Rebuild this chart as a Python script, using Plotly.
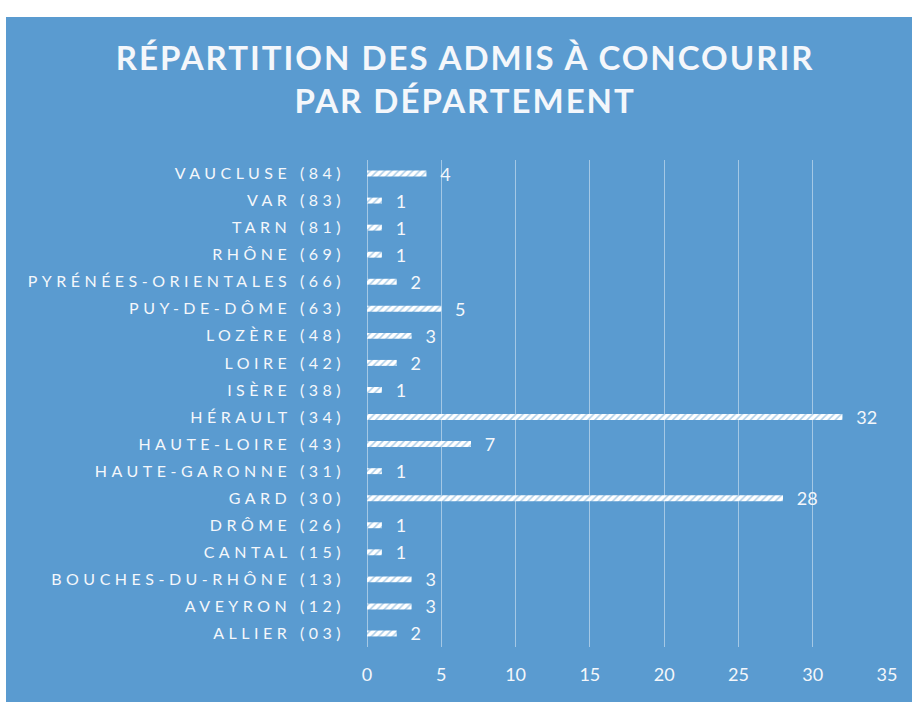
import plotly.graph_objects as go

departements = [
    "VAUCLUSE (84)", "VAR (83)", "TARN (81)", "RHÔNE (69)",
    "PYRÉNÉES-ORIENTALES (66)", "PUY-DE-DÔME (63)", "LOZÈRE (48)",
    "LOIRE (42)", "ISÈRE (38)", "HÉRAULT (34)", "HAUTE-LOIRE (43)",
    "HAUTE-GARONNE (31)", "GARD (30)", "DRÔME (26)", "CANTAL (15)",
    "BOUCHES-DU-RHÔNE (13)", "AVEYRON (12)", "ALLIER (03)",
]
admis = [4, 1, 1, 1, 2, 5, 3, 2, 1, 32, 7, 1, 28, 1, 1, 3, 3, 2]
x_ticks = [0, 5, 10, 15, 20, 25, 30, 35]

BLUE = "#5a9bd0"
TXT = "#f4f7fb"
FONT = "Lato"

fig = go.Figure(go.Bar(
    y=departements, x=admis, orientation="h",
    marker=dict(color="white", line=dict(width=0),
                pattern=dict(shape="/", fgcolor=BLUE, size=5, solidity=0.3)),
    texttemplate="\u00a0\u00a0\u00a0%{x}", textposition="outside", cliponaxis=False,
    constraintext="none",
    textfont=dict(family=FONT, size=18, color=TXT),
))

fig.update_layout(
    width=912, height=702,
    margin=dict(l=367, r=25, t=160, b=55),
    paper_bgcolor="white", plot_bgcolor="rgba(0,0,0,0)",
    bargap=0.78, showlegend=False,
    title=dict(text="RÉPARTITION DES ADMIS À CONCOURIR<br>PAR DÉPARTEMENT",
               x=0.51, xanchor="center", y=0.9, yanchor="middle",
               font=dict(family=FONT, size=33, color=TXT, weight="bold")),
    shapes=[dict(type="rect", xref="paper", yref="paper",
                 x0=(6 - 367) / 520, x1=(912 - 367) / 520 + 0.1,
                 y0=-0.2, y1=(647 - 17) / 487,
                 fillcolor=BLUE, line=dict(width=0), layer="below")],
    xaxis=dict(range=[0, 35], tickvals=x_ticks, showgrid=True,
               gridcolor="rgba(255,255,255,0.45)", gridwidth=1, zeroline=True,
               zerolinecolor="rgba(255,255,255,0.45)", zerolinewidth=1,
               showline=False, ticks="", ticklabelstandoff=15,
               tickfont=dict(family=FONT, size=18, color=TXT)),
    yaxis=dict(autorange="reversed", showgrid=False, ticks="", showline=False,
               ticklabelstandoff=21,
               tickfont=dict(family=FONT, size=16, color=TXT)),
)

js = """
document.body.style.margin='0';
document.querySelectorAll('.ytick text').forEach(function(t){t.style.letterSpacing='4.5px';});
document.querySelectorAll('.gtitle').forEach(function(t){t.style.letterSpacing='2px';});
"""
fig.write_html("out.html", post_script=js, config={"displayModeBar": False})
